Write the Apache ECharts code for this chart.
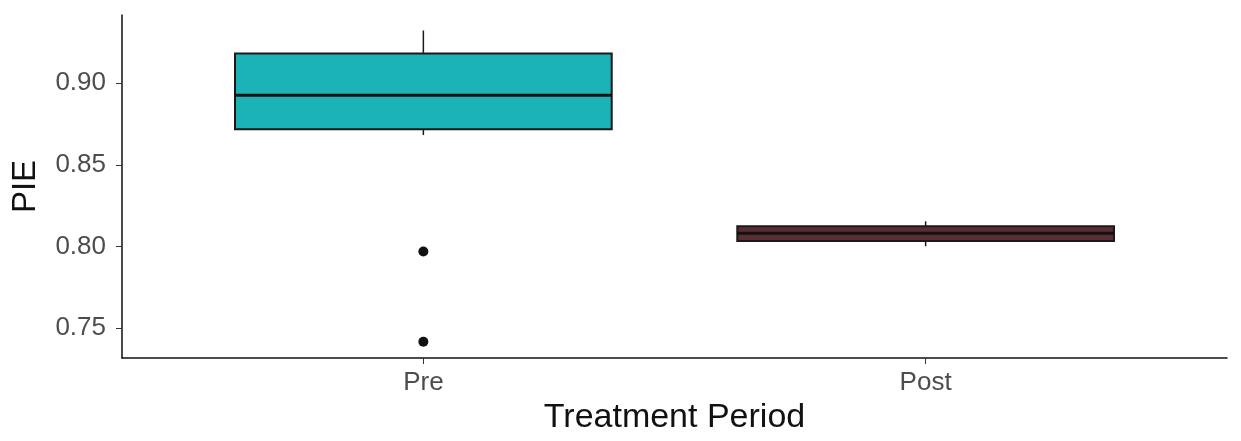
<!DOCTYPE html>
<html>
<head>
<meta charset="utf-8">
<script src="https://cdn.jsdelivr.net/npm/echarts@6/dist/echarts.min.js"></script>
<style>
  html, body { margin: 0; padding: 0; background: #fff; }
  #main { width: 1241px; height: 441px; }
</style>
</head>
<body>
<div id="main"></div>
<script>
// box stats
var categories = ['Pre', 'Post'];
var mins    = [0.8683, 0.8002];
var q1s     = [0.8718, 0.8035];
var medians = [0.8927, 0.8082];
var q3s     = [0.9183, 0.8125];
var maxs    = [0.9323, 0.8155];
// outlying points
var outlierCat = [1, 1];
var outlierVal = [0.7970, 0.7418];
var yTicks = [0.75, 0.80, 0.85, 0.90];

var fills = ['#1bb3b5', '#5a2c33'];

var boxData = [];
for (var i = 0; i < categories.length; i++) {
    boxData.push([i + 1, mins[i], q1s[i], medians[i], q3s[i], maxs[i]]);
}
var outData = [];
for (var j = 0; j < outlierVal.length; j++) {
    outData.push([outlierCat[j], outlierVal[j]]);
}

function renderBox(params, api) {
    var x = api.value(0);
    var w = api.size([0.75, 0])[0];
    var pMin = api.coord([x, api.value(1)]);
    var pQ1 = api.coord([x, api.value(2)]);
    var pMed = api.coord([x, api.value(3)]);
    var pQ3 = api.coord([x, api.value(4)]);
    var pMax = api.coord([x, api.value(5)]);
    var line = { stroke: '#1a1a1a', lineWidth: 1.5 };
    return {
        type: 'group',
        children: [
            { type: 'line', shape: { x1: pMax[0], y1: pMax[1], x2: pQ3[0], y2: pQ3[1] }, style: line },
            { type: 'line', shape: { x1: pQ1[0], y1: pQ1[1], x2: pMin[0], y2: pMin[1] }, style: line },
            {
                type: 'rect',
                shape: { x: pQ3[0] - w / 2, y: pQ3[1], width: w, height: pQ1[1] - pQ3[1] },
                style: { fill: fills[params.dataIndex], stroke: '#1a1a1a', lineWidth: 2 }
            },
            {
                type: 'line',
                shape: { x1: pMed[0] - w / 2, y1: pMed[1], x2: pMed[0] + w / 2, y2: pMed[1] },
                style: { stroke: '#111', lineWidth: 3 }
            }
        ]
    };
}

var chart = echarts.init(document.getElementById('main'));
var option = {
    backgroundColor: '#fff',
    animation: false,
    textStyle: { fontFamily: 'Liberation Sans, Arial, sans-serif' },
    grid: { left: 122, right: 14, top: 15, bottom: 83 },
    xAxis: {
        type: 'value',
        min: 0.4,
        max: 2.6,
        name: 'Treatment Period',
        nameLocation: 'middle',
        nameGap: 41,
        nameTextStyle: { fontSize: 34, color: '#111' },
        axisLine: { show: true, lineStyle: { color: '#111', width: 1.5 } },
        axisTick: { show: true, length: 6, customValues: [1, 2], lineStyle: { color: '#333' } },
        axisLabel: {
            customValues: [1, 2],
            fontSize: 26,
            color: '#4d4d4d',
            margin: 12,
            formatter: function (v) { return categories[Math.round(v) - 1]; }
        },
        splitLine: { show: false }
    },
    yAxis: {
        type: 'value',
        min: 0.7318,
        max: 0.9418,
        name: 'PIE',
        nameLocation: 'middle',
        nameGap: 80,
        nameTextStyle: { fontSize: 33, color: '#111' },
        axisLine: { show: true, lineStyle: { color: '#111', width: 1.5 } },
        axisTick: { show: true, length: 6, customValues: yTicks, lineStyle: { color: '#333' } },
        axisLabel: {
            customValues: yTicks,
            fontSize: 26,
            color: '#4d4d4d',
            margin: 16,
            formatter: function (v) { return v.toFixed(2); }
        },
        splitLine: { show: false }
    },
    series: [{
        type: 'custom',
        renderItem: renderBox,
        encode: { x: 0, y: [1, 2, 3, 4, 5] },
        data: boxData
    }, {
        type: 'scatter',
        symbolSize: 10,
        itemStyle: { color: '#111', opacity: 1 },
        data: outData
    }]
};
chart.setOption(option);
</script>
</body>
</html>
